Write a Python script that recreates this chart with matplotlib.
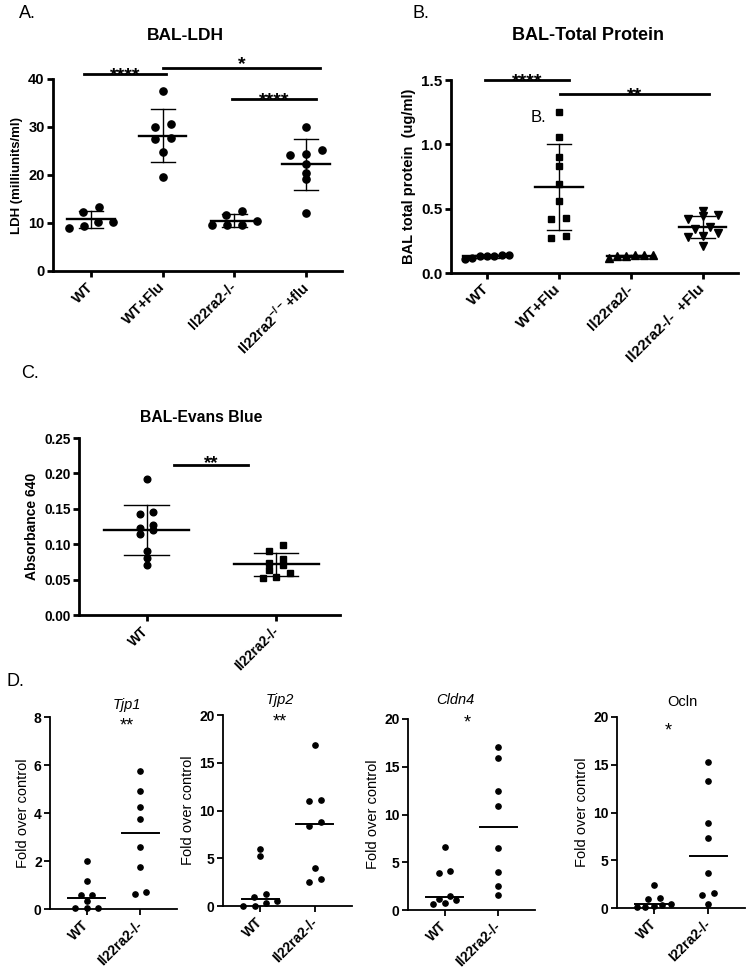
import numpy as np
import matplotlib
matplotlib.use("Agg")
import matplotlib.pyplot as plt

plt.rcParams['font.family'] = 'Liberation Sans'
plt.rcParams['font.weight'] = 'bold'
plt.rcParams['axes.labelweight'] = 'bold'
plt.rcParams['mathtext.fontset'] = 'custom'
plt.rcParams['mathtext.rm'] = 'Liberation Sans:bold'
plt.rcParams['mathtext.bf'] = 'Liberation Sans:bold'

# ---- data ----
# A. BAL-LDH
ldh_groups = ['WT', 'WT+Flu', 'Il22ra2-/-', r'Il22ra2$^{-/-}$+flu']
ldh_wt = [9.0, 12.2, 10.3, 13.3, 9.3, 10.3]
ldh_flu = [37.6, 30.6, 30.0, 27.4, 27.7, 24.7, 19.6]
ldh_ko = [11.6, 9.5, 10.4, 12.5, 9.5, 9.5]
ldh_ko_flu = [30.1, 24.1, 25.3, 24.4, 22.3, 19.1, 20.5, 12.0]

# B. BAL total protein
prot_groups = ['WT', 'WT+Flu', 'Il22ra2/-', 'Il22ra2-/-  +Flu']
prot_wt = [0.12, 0.14, 0.13, 0.14, 0.13, 0.11, 0.13]
prot_flu = [1.25, 1.06, 0.90, 0.83, 0.69, 0.56, 0.43, 0.42, 0.27, 0.29]
prot_ko = [0.13, 0.14, 0.13, 0.14, 0.12, 0.14]
prot_ko_flu = [0.42, 0.48, 0.44, 0.45, 0.29, 0.21, 0.34, 0.28, 0.31, 0.36]

# C. BAL Evans blue
evans_groups = ['WT', 'Il22ra2-/-']
evans_wt = [0.192, 0.145, 0.142, 0.123, 0.127, 0.120, 0.114, 0.091, 0.080, 0.071]
evans_ko = [0.099, 0.091, 0.079, 0.074, 0.070, 0.064, 0.060, 0.052, 0.053]

# D. tight junction genes, fold over control
genes = ['Tjp1', 'Tjp2', 'Cldn4', 'Ocln']
gene_stars = ['**', '**', '*', '*']
gene_ymax = [8, 20, 20, 20]
gene_ticks = [[0, 2, 4, 6, 8], [0, 5, 10, 15, 20], [0, 5, 10, 15, 20], [0, 5, 10, 15, 20]]
gene_groups = [['WT', 'Il22ra2-/-'], ['WT', 'Il22ra2-/-'], ['WT', 'Il22ra2-/-'], ['WT', 'I22ra2-/-']]
tjp1_wt = [2.02, 1.16, 0.57, 0.57, 0.04, 0.04, 0.32, 0.04]
tjp1_ko = [5.77, 4.91, 4.24, 3.74, 2.59, 1.73, 0.64, 0.71]
tjp2_wt = [6.0, 5.2, 0.9, 1.3, 0.0, 0.49, 0.0, 0.31]
tjp2_ko = [16.9, 11.0, 11.1, 8.4, 8.8, 4.0, 2.5, 2.8]
cldn4_wt = [6.6, 3.9, 4.1, 1.5, 1.15, 1.08, 0.6, 0.7]
cldn4_ko = [17.1, 15.9, 12.5, 10.9, 6.5, 4.0, 2.5, 1.6]
ocln_wt = [2.4, 0.95, 1.0, 0.45, 0.3, 0.15, 0.15, 0.2]
ocln_ko = [15.3, 13.3, 8.9, 7.3, 3.65, 1.36, 1.57, 0.42]

W, H = 750, 972
fig = plt.figure(figsize=(W / 100, H / 100), dpi=100)


def rect(x0, y0, x1, y1):
    return [x0 / W, 1 - y1 / H, (x1 - x0) / W, (y1 - y0) / H]


def ftext(x, y, s, **kw):
    fig.text(x / W, 1 - y / H, s, **kw)


def spread(ax, vals, d):
    # prism-like scatter: bin close values, centre each bin's points side by side
    bb = ax.get_position()
    x0, x1 = ax.get_xlim()
    y0, y1 = ax.get_ylim()
    sx = bb.width * W / (x1 - x0)
    sy = bb.height * H / (y1 - y0)
    vals = np.asarray(vals, dtype=float)
    order = np.argsort(vals)
    offs = np.zeros(len(vals))
    bins, cur = [], [order[0]]
    for j in order[1:]:
        if (vals[j] - vals[cur[0]]) * sy < d * 0.95:
            cur.append(j)
        else:
            bins.append(cur)
            cur = [j]
    bins.append(cur)
    for b in bins:
        n = len(b)
        if n == 1:
            continue
        step = min(2.3 * d, 0.62 * sx / (n - 1))
        for k, j in enumerate(b):
            offs[j] = (k - (n - 1) / 2) * step / sx
    return offs


def style(ax, lw, size):
    for s in ['top', 'right']:
        ax.spines[s].set_visible(False)
    for s in ['left', 'bottom']:
        ax.spines[s].set_linewidth(lw)
    ax.tick_params(width=lw, length=4, labelsize=size, pad=2)


def mean_sd(ax, i, vals, marker, ms, d):
    vals = np.array(vals)
    offs = spread(ax, vals, d)
    ax.plot(i + offs, vals, ls='none', marker=marker, ms=ms, color='black',
            clip_on=False, zorder=3)
    m = vals.mean()
    s = vals.std(ddof=1)
    ax.plot([i - 0.33, i + 0.33], [m, m], color='black', lw=1.7, zorder=4)
    ax.plot([i, i], [m - s, m + s], color='black', lw=1.0, zorder=4)
    for yy in (m - s, m + s):
        ax.plot([i - 0.17, i + 0.17], [yy, yy], color='black', lw=1.0, zorder=4)


def sig(ax, xa, xb, y, s, dy=-4.5, size=14):
    ax.plot([xa, xb], [y, y], color='black', lw=2.0, clip_on=False)
    ax.annotate(s, xy=((xa + xb) / 2, y), xytext=(0, dy), textcoords='offset points',
                ha='center', va='baseline', fontsize=size, fontweight='bold',
                annotation_clip=False)


# ---------- A ----------
axA = fig.add_axes(rect(53, 79, 342, 271))
axA.set_xlim(-0.53, 3.5)
axA.set_ylim(0, 40)
style(axA, 2.0, 10.5)
for i, vals in enumerate([ldh_wt, ldh_flu, ldh_ko, ldh_ko_flu]):
    mean_sd(axA, i, vals, 'o', 5.2, 7)
axA.set_yticks([0, 10, 20, 30, 40])
axA.set_xticks(range(4))
axA.set_xticklabels(ldh_groups, rotation=45, ha='right', va='center', rotation_mode='anchor')
axA.tick_params(axis='x', pad=6)
axA.set_ylabel('LDH (milliunits/ml)', fontsize=9.5, labelpad=4)
sig(axA, -0.1, 1.05, 41.0, '****')
sig(axA, 1.0, 3.2, 42.3, '*', dy=-0.5)
sig(axA, 1.97, 3.14, 35.8, '****')
ftext(185, 35, 'BAL-LDH', ha='center', va='center', fontsize=12.5, fontweight='bold')
ftext(19, 13, 'A.', ha='left', va='center', fontsize=13, fontweight='normal')

# ---------- B ----------
axB = fig.add_axes(rect(451, 80, 738, 273))
axB.set_xlim(-0.5, 3.49)
axB.set_ylim(0, 1.5)
style(axB, 2.0, 11)
for i, (vals, mk, ms) in enumerate(zip([prot_wt, prot_flu, prot_ko, prot_ko_flu],
                                       ['o', 's', '^', 'v'], [5.0, 4.6, 5.2, 5.2])):
    mean_sd(axB, i, vals, mk, ms, 6.5)
axB.set_yticks([0, 0.5, 1.0, 1.5])
axB.set_yticklabels(['0.0', '0.5', '1.0', '1.5'])
axB.set_xticks(range(4))
axB.set_xticklabels(prot_groups, rotation=45, ha='right', va='center', rotation_mode='anchor')
axB.tick_params(axis='x', pad=6)
axB.set_ylabel('BAL total protein  (ug/ml)', fontsize=10.5, labelpad=4)
sig(axB, -0.03, 1.14, 1.50, '****')
sig(axB, 1.02, 3.08, 1.39, '**')
axB.text(0.72, 1.21, 'B.', ha='center', va='center', fontsize=12, fontweight='normal')
ftext(588, 35, 'BAL-Total Protein', ha='center', va='center', fontsize=13, fontweight='bold')
ftext(413, 13, 'B.', ha='left', va='center', fontsize=13, fontweight='normal')

# ---------- C ----------
axC = fig.add_axes(rect(79, 438, 340, 615))
axC.set_xlim(-0.52, 1.49)
axC.set_ylim(0, 0.25)
style(axC, 2.0, 9.8)
for i, (vals, mk, ms) in enumerate(zip([evans_wt, evans_ko], ['o', 's'], [4.8, 4.6])):
    mean_sd(axC, i, vals, mk, ms, 6)
axC.set_yticks([0, 0.05, 0.10, 0.15, 0.20, 0.25])
axC.set_yticklabels(['0.00', '0.05', '0.10', '0.15', '0.20', '0.25'])
axC.set_xticks(range(2))
axC.set_xticklabels(evans_groups, rotation=45, ha='right', va='center', rotation_mode='anchor')
axC.tick_params(axis='x', pad=6)
axC.set_ylabel('Absorbance 640', fontsize=10, labelpad=4)
sig(axC, 0.21, 0.78, 0.212, '**', dy=-2.5, size=13.5)
ftext(201, 418, 'BAL-Evans Blue', ha='center', va='center', fontsize=11.3, fontweight='bold')
ftext(21, 373, 'C.', ha='left', va='center', fontsize=13, fontweight='normal')

# ---------- D ----------
d_rects = [(50, 717, 177, 909), (223, 715, 352, 906), (408, 719, 535, 910), (617, 717, 745, 908)]
d_title = [(127, 705), (280, 700), (455, 700), (682, 702)]
d_star = [(127, 722), (280, 718), (467, 719), (668, 727)]
d_wt = [tjp1_wt, tjp2_wt, cldn4_wt, ocln_wt]
d_ko = [tjp1_ko, tjp2_ko, cldn4_ko, ocln_ko]
for k in range(4):
    ax = fig.add_axes(rect(*d_rects[k]))
    ax.set_xlim(-0.68, 1.68)
    ax.set_ylim(0, gene_ymax[k])
    style(ax, 1.3, 10)
    for i, vals in enumerate([d_wt[k], d_ko[k]]):
        vals = np.array(vals)
        offs = spread(ax, vals, 5)
        ax.plot(i + offs, vals, ls='none', marker='o', ms=3.8, color='black',
                clip_on=False, zorder=3)
        med = np.median(vals)
        ax.plot([i - 0.34, i + 0.34], [med, med], color='black', lw=1.4, zorder=4)
    ax.set_yticks(gene_ticks[k])
    ax.set_xticks(range(2))
    ax.set_xticklabels(gene_groups[k], rotation=45, ha='right', va='center',
                       rotation_mode='anchor')
    ax.tick_params(axis='x', pad=6)
    ax.set_ylabel('Fold over control', fontsize=10.5, fontweight='normal', labelpad=3)
    style_t = 'normal' if genes[k] == 'Ocln' else 'italic'
    ftext(d_title[k][0], d_title[k][1], genes[k], ha='center', va='center', fontsize=10.5,
          fontweight='normal', fontstyle=style_t)
    ftext(d_star[k][0], d_star[k][1] + 4, gene_stars[k], ha='center', va='center',
          fontsize=13, fontweight='normal')
ftext(7, 681, 'D.', ha='left', va='center', fontsize=13, fontweight='normal')

fig.savefig('out.png', dpi=100)
